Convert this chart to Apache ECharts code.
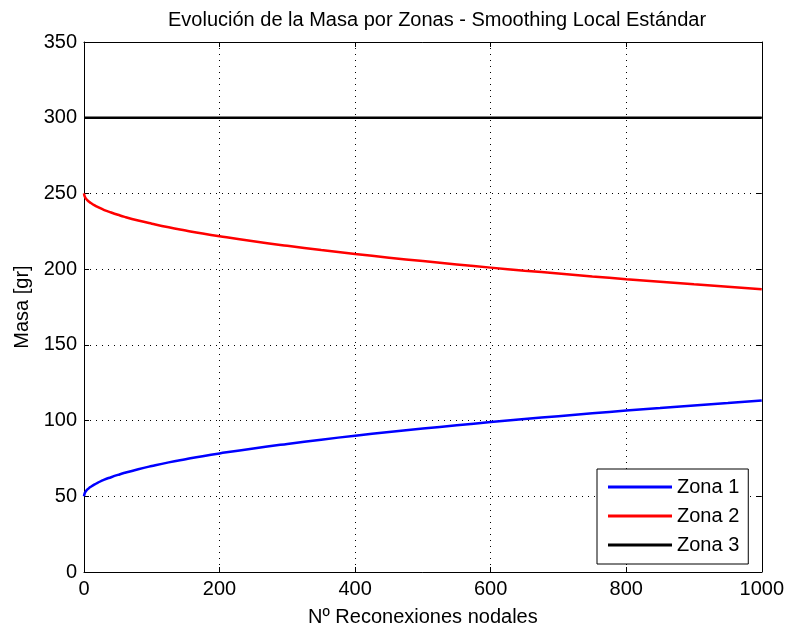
<!DOCTYPE html>
<html><head><meta charset="utf-8">
<script src="https://cdn.jsdelivr.net/npm/echarts@6/dist/echarts.min.js"></script>
<style>html,body{margin:0;padding:0;background:#fff}#c{width:787px;height:632px}</style>
</head><body><div id="c"></div>
<script>
var reconexiones = [0,1,2,3,5,8,10,15,20,30,40,50,60,80,100,125,150,175,200,250,300,350,400,450,500,550,600,650,700,750,800,850,900,950,1000];
var zona1 = [50,52,52.8,53.5,54.5,55.7,56.3,57.7,58.9,61,62.6,64.1,65.5,67.9,70,72.4,74.5,76.5,78.3,81.6,84.6,87.4,90,92.4,94.7,96.9,99,101,102.9,104.8,106.6,108.3,110,111.6,113.2];
var zona2 = [250,248,247.2,246.5,245.5,244.3,243.7,242.3,241.1,239,237.4,235.9,234.5,232.1,230,227.6,225.5,223.5,221.7,218.4,215.4,212.6,210,207.6,205.3,203.1,201,199,197.1,195.2,193.4,191.7,190,188.4,186.8];
var zona3 = [300,300,300,300,300,300,300,300,300,300,300,300,300,300,300,300,300,300,300,300,300,300,300,300,300,300,300,300,300,300,300,300,300,300,300];
var xTicks = [0,200,400,600,800,1000];
var yTicks = [0,50,100,150,200,250,300,350];

function pairs(ys){ return reconexiones.map(function(x,i){return [x, ys[i]];}); }
var F = 'Liberation Sans, Arial, sans-serif';
var chart = echarts.init(document.getElementById('c'));
var axisLine = {show:true, onZero:false, lineStyle:{color:'#000', width:1}};
var tick = {show:true, inside:true, length:5, lineStyle:{color:'#000'}};
chart.setOption({
  animation:false,
  backgroundColor:'#fff',
  title:{text:'Evolución de la Masa por Zonas - Smoothing Local Estándar', left:163, top:5,
    textStyle:{fontFamily:F, fontSize:20, fontWeight:'normal', color:'#000'}},
  grid:{left:84, right:24, top:42, bottom:55},
  legend:{orient:'vertical', left:597, top:469, icon:'rect', itemWidth:64, itemHeight:3, itemGap:9,
    borderColor:'#000', borderWidth:1, padding:[8,9,9,11], backgroundColor:'#fff',
    textStyle:{fontFamily:F, fontSize:20, color:'#000'},
    data:['Zona 1','Zona 2','Zona 3']},
  xAxis:[{type:'value', min:xTicks[0], max:xTicks[xTicks.length-1], interval:200,
    name:'Nº Reconexiones nodales', nameLocation:'middle', nameGap:35,
    nameTextStyle:{fontFamily:F, fontSize:20, color:'#000'},
    axisLine:axisLine, axisTick:tick,
    axisLabel:{fontFamily:F, fontSize:20, color:'#000', margin:7, formatter:function(v){return String(v);}},
    splitLine:{show:true, lineStyle:{color:'#000', type:[1,5], width:1}}},
   {type:'value', position:'top', min:0, max:1000, interval:200, axisLine:axisLine, axisTick:tick,
    axisLabel:{show:false}, splitLine:{show:false}}],
  yAxis:[{type:'value', min:yTicks[0], max:yTicks[yTicks.length-1], interval:50,
    name:'Masa [gr]', nameLocation:'middle', nameGap:52,
    nameTextStyle:{fontFamily:F, fontSize:20, color:'#000'},
    axisLine:axisLine, axisTick:tick,
    axisLabel:{fontFamily:F, fontSize:20, color:'#000', margin:7},
    splitLine:{show:true, lineStyle:{color:'#000', type:[1,5], width:1}}},
   {type:'value', position:'right', min:0, max:350, interval:50, axisLine:axisLine, axisTick:tick,
    axisLabel:{show:false}, splitLine:{show:false}}],
  series:[
    {name:'Zona 1', type:'line', data:pairs(zona1), showSymbol:false, symbol:'none', smooth:true, lineStyle:{color:'#0000ff', width:2.5}, itemStyle:{color:'#0000ff'}},
    {name:'Zona 2', type:'line', data:pairs(zona2), showSymbol:false, symbol:'none', smooth:true, lineStyle:{color:'#ff0000', width:2.5}, itemStyle:{color:'#ff0000'}},
    {name:'Zona 3', type:'line', data:pairs(zona3), showSymbol:false, symbol:'none', lineStyle:{color:'#000000', width:2.5}, itemStyle:{color:'#000000'}}
  ]
});
</script></body></html>
